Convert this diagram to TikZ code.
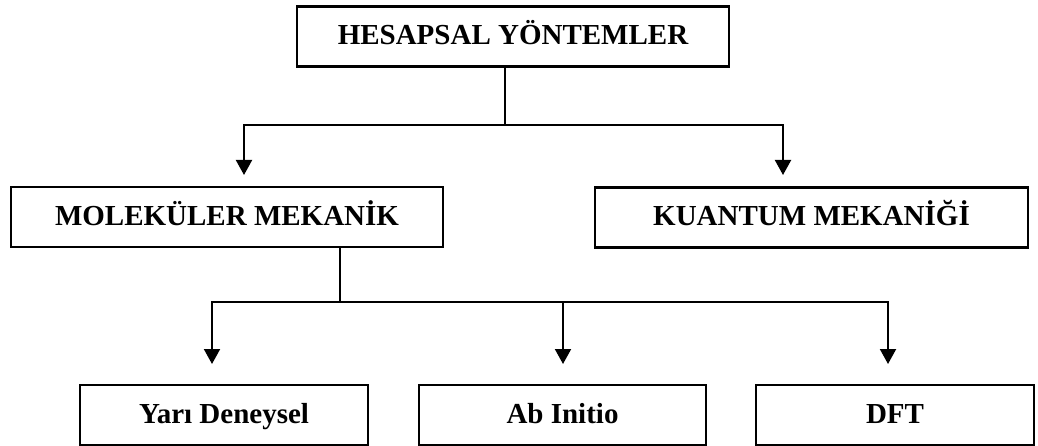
\documentclass[tikz,border=0pt]{standalone}
\usepackage{fontspec}
\setmainfont{Liberation Serif}
\usetikzlibrary{positioning, arrows.meta}

\begin{document}
\begin{tikzpicture}[x=1pt, y=-1pt]
    \tikzstyle{kutu}=[draw, rectangle, line width=2.4pt, inner sep=0pt, minimum height=60pt, text height=20pt, text depth=3pt, font=\fontsize{29}{34}\selectfont\bfseries];
    \tikzstyle{ok}=[line width=2pt, -{Triangle[width=16pt, length=15pt]}];
    \useasboundingbox (0,0) rectangle (1038,446);

    \node[kutu, minimum width=432pt] (hesap) at (513,36.5) {HESAPSAL YÖNTEMLER};
    \node[kutu, minimum width=432pt] (mol) at (227,217) {MOLEKÜLER MEKANİK};
    \node[kutu, minimum width=433pt] (kuant) at (811.5,217.5) {KUANTUM MEKANİĞİ};
    \node[kutu, minimum width=288pt] (yari) at (224,415) {Yarı Deneysel};
    \node[kutu, minimum width=287pt] (abin) at (562.5,415) {Ab Initio};
    \node[kutu, minimum width=278pt] (dft) at (895,415) {DFT};

    % dallanma noktalari
    \coordinate (dal1) at (505,125);
    \coordinate (molok) at (244,175);
    \coordinate (kuantok) at (783,175);
    \coordinate (dal2) at (340,302);
    \coordinate (yariok) at (212,364);
    \coordinate (abinok) at (563,364);
    \coordinate (dftok) at (888,364);

    \draw[line width=2pt] (hesap.south -| dal1) -- (dal1);
    \draw[ok] (dal1) -| (molok);
    \draw[ok] (dal1) -| (kuantok);

    \draw[line width=2pt] (mol.south -| dal2) -- (dal2);
    \draw[ok] (dal2) -| (yariok);
    \draw[ok] (dal2) -| (abinok);
    \draw[ok] (dal2) -| (dftok);
\end{tikzpicture}
\end{document}
